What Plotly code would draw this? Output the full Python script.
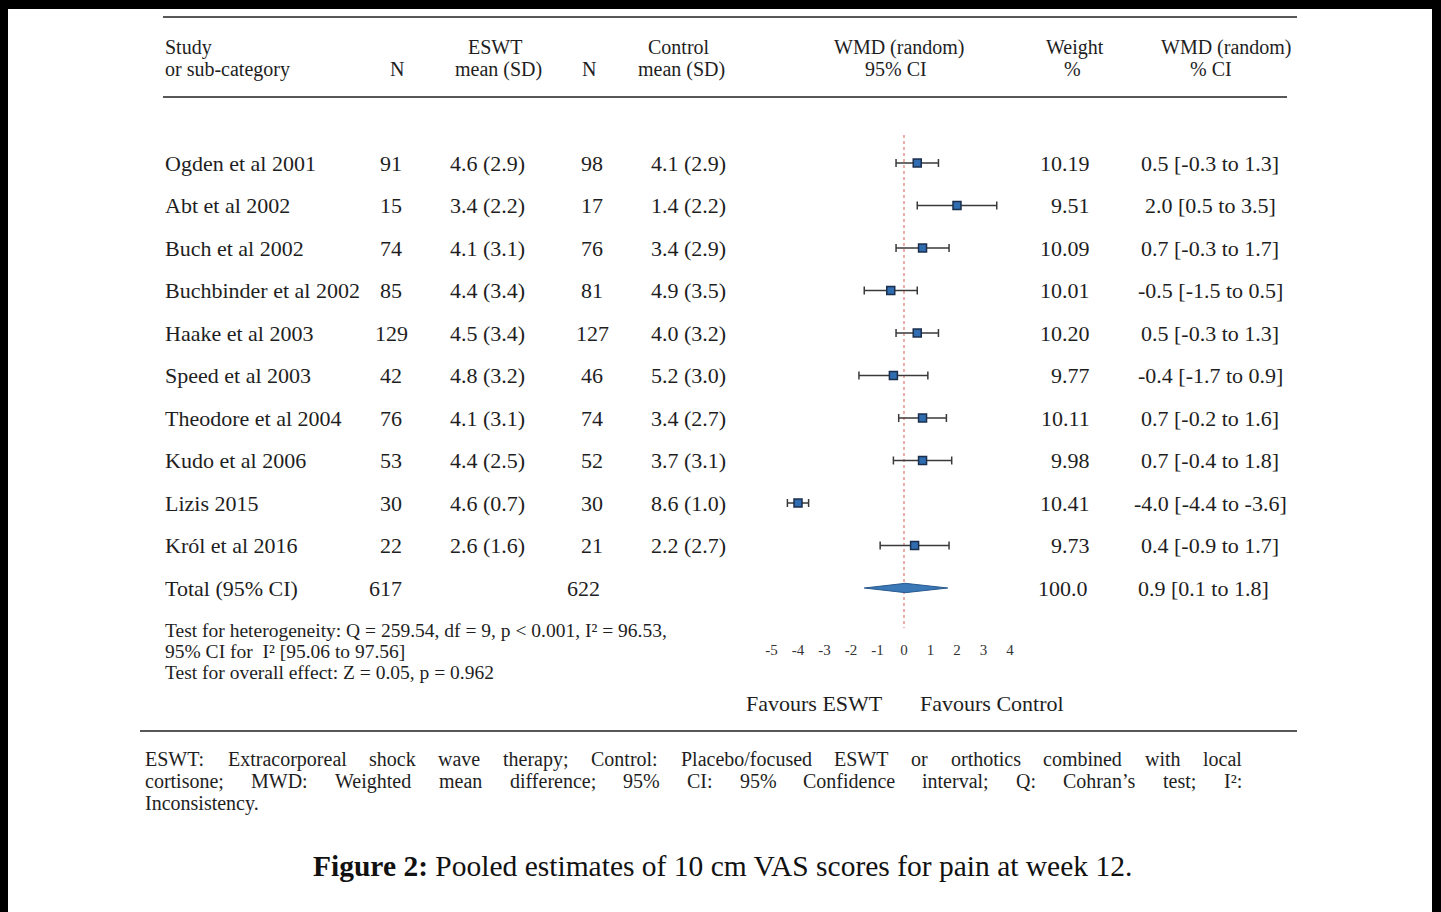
import plotly.graph_objects as go

# ---------------- data ----------------
studies = ["Ogden et al 2001", "Abt et al 2002", "Buch et al 2002", "Buchbinder et al 2002",
           "Haake et al 2003", "Speed et al 2003", "Theodore et al 2004", "Kudo et al 2006",
           "Lizis 2015", "Król et al 2016"]
n_eswt = [91, 15, 74, 85, 129, 42, 76, 53, 30, 22]
eswt_msd = ["4.6 (2.9)", "3.4 (2.2)", "4.1 (3.1)", "4.4 (3.4)", "4.5 (3.4)",
            "4.8 (3.2)", "4.1 (3.1)", "4.4 (2.5)", "4.6 (0.7)", "2.6 (1.6)"]
n_ctrl = [98, 17, 76, 81, 127, 46, 74, 52, 30, 21]
ctrl_msd = ["4.1 (2.9)", "1.4 (2.2)", "3.4 (2.9)", "4.9 (3.5)", "4.0 (3.2)",
            "5.2 (3.0)", "3.4 (2.7)", "3.7 (3.1)", "8.6 (1.0)", "2.2 (2.7)"]
wmd = [0.5, 2.0, 0.7, -0.5, 0.5, -0.4, 0.7, 0.7, -4.0, 0.4]
ci_lo = [-0.3, 0.5, -0.3, -1.5, -0.3, -1.7, -0.2, -0.4, -4.4, -0.9]
ci_hi = [1.3, 3.5, 1.7, 0.5, 1.3, 0.9, 1.6, 1.8, -3.6, 1.7]
weights = ["10.19", "9.51", "10.09", "10.01", "10.20", "9.77", "10.11", "9.98", "10.41", "9.73"]

total_label = "Total (95% CI)"
total_n_eswt = 617
total_n_ctrl = 622
total_weight = "100.0"
total_ci_text = "0.9 [0.1 to 1.8]"
# diamond as drawn in the picture
diamond_mid = 0.05
diamond_lo = -1.5
diamond_hi = 1.65

tick_vals = [-5, -4, -3, -2, -1, 0, 1, 2, 3, 4]
tick_text = ["-5", "-4", "-3", "-2", "-1", "0", "1", "2", "3", "4"]

W, H = 1441, 912
SERIF = "Liberation Serif, Times New Roman, serif"
TXT = "#1e1e1e"


def X(px):
    return px / W


def Y(py):
    return 1 - py / H


# axis mapping: px = 904 + 26.5*v ; row px = 163 + 42.5*i
x_dom = (740, 1040)
x_rng = [(x_dom[0] - 904) / 26.5, (x_dom[1] - 904) / 26.5]
y_rng = [(H - 163) / 42.5, (0 - 163) / 42.5]

fig = go.Figure()
rows = list(range(len(studies)))
total_row = len(studies)

# null line
fig.add_trace(go.Scatter(x=[0, 0], y=[-0.66, 10.94], mode="lines",
                         line=dict(color="#e27a72", width=1.2, dash="dot"),
                         hoverinfo="skip", showlegend=False))

# study estimates with CIs
fig.add_trace(go.Scatter(
    x=wmd, y=rows, mode="markers",
    marker=dict(symbol="square", size=8, color="#2f6db0",
                line=dict(color="#1b2f4d", width=1.5)),
    error_x=dict(type="data", symmetric=False,
                 array=[h - m for h, m in zip(ci_hi, wmd)],
                 arrayminus=[m - l for m, l in zip(wmd, ci_lo)],
                 color="#3a3a3a", thickness=1.5, width=4),
    showlegend=False))

# pooled diamond
dh = 0.11
fig.add_trace(go.Scatter(
    x=[diamond_lo, diamond_mid, diamond_hi, diamond_mid, diamond_lo],
    y=[total_row, total_row - dh, total_row, total_row + dh, total_row],
    mode="lines", fill="toself", fillcolor="#3a78b8",
    line=dict(color="#2a5a8e", width=1), showlegend=False, hoverinfo="skip"))

ann = []


def add(text, x, y, xanchor="left", size=22, yref="paper"):
    ann.append(dict(text=text, x=X(x), y=(Y(y) if yref == "paper" else y),
                    xref="paper", yref=yref, xanchor=xanchor, yanchor="middle",
                    showarrow=False, font=dict(family=SERIF, size=size, color=TXT)))


# header
HS = 20
add("Study", 163, 47, size=HS)
add("or sub-category", 163, 69, size=HS)
add("N", 397, 69, "center", size=HS)
add("ESWT", 495, 47, "center", size=HS)
add("mean (SD)", 498, 69, "center", size=HS)
add("N", 589, 69, "center", size=HS)
add("Control", 679, 47, "center", size=HS)
add("mean (SD)", 681, 69, "center", size=HS)
add("WMD (random)", 899, 47, "center", size=HS)
add("95% CI", 896, 69, "center", size=HS)
add("Weight", 1075, 47, "center", size=HS)
add("%", 1072, 69, "center", size=HS)
add("WMD (random)", 1226, 47, "center", size=HS)
add("% CI", 1211, 69, "center", size=HS)

# rows
for i in rows:
    add(studies[i], 163, i, "left", yref="y")
    add(str(n_eswt[i]), 391, i, "center", yref="y")
    add(eswt_msd[i], 448, i, "left", yref="y")
    add(str(n_ctrl[i]), 592, i, "center", yref="y")
    add(ctrl_msd[i], 649, i, "left", yref="y")
    add(weights[i], 1092, i, "right", yref="y")
    add(f"{wmd[i]:.1f} [{ci_lo[i]:.1f} to {ci_hi[i]:.1f}]", 1210, i, "center", yref="y")

add(total_label, 163, total_row, "left", yref="y")
add(str(total_n_eswt), 385, total_row, "center", yref="y")
add(str(total_n_ctrl), 583, total_row, "center", yref="y")
add(total_weight, 1090, total_row, "right", yref="y")
add(total_ci_text, 1203, total_row, "center", yref="y")

# test lines
TS = 19.5
add("Test for heterogeneity: Q = 259.54, df = 9, p &lt; 0.001, I² = 96.53,", 163, 630, size=TS)
add("95% CI for  I² [95.06 to 97.56]", 163, 651, size=TS)
add("Test for overall effect: Z = 0.05, p = 0.962", 163, 672, size=TS)

add("Favours ESWT", 815, 703, "center")
add("Favours Control", 992, 703, "center")

# footnote (justified)
TW = {' ': 250, 'a': 444, 'b': 500, 'c': 444, 'd': 500, 'e': 444, 'f': 333, 'g': 500, 'h': 500,
      'i': 278, 'j': 278, 'k': 500, 'l': 278, 'm': 778, 'n': 500, 'o': 500, 'p': 500, 'q': 500,
      'r': 333, 's': 389, 't': 278, 'u': 500, 'v': 500, 'w': 722, 'x': 500, 'y': 500, 'z': 444,
      'A': 722, 'B': 667, 'C': 667, 'D': 722, 'E': 611, 'F': 556, 'G': 722, 'H': 722, 'I': 333,
      'J': 389, 'K': 722, 'L': 611, 'M': 889, 'N': 722, 'O': 722, 'P': 556, 'Q': 722, 'R': 667,
      'S': 556, 'T': 611, 'U': 722, 'V': 722, 'W': 944, 'X': 722, 'Y': 722, 'Z': 611,
      '.': 250, ',': 250, ':': 278, ';': 278, '/': 278, '%': 833, "'": 180, '’': 333,
      '(': 333, ')': 333, '-': 333, '²': 300}
for d in "0123456789":
    TW[d] = 500


def text_w(s, size):
    return sum(TW.get(c, 500) for c in s) * size / 1000.0


FN = 20
foot_lines = [
    ["ESWT:", "Extracorporeal", "shock", "wave", "therapy;", "Control:", "Placebo/focused",
     "ESWT", "or", "orthotics", "combined", "with", "local"],
    ["cortisone;", "MWD:", "Weighted", "mean", "difference;", "95%", "CI:", "95%",
     "Confidence", "interval;", "Q:", "Cohran’s", "test;", "I²:"],
]
foot_y = [759, 781]
x0, x1 = 143, 1240
for words, yy in zip(foot_lines, foot_y):
    widths = [text_w(w, FN) for w in words]
    gap = (x1 - x0 - sum(widths)) / (len(words) - 1)
    xx = x0
    for w, wd in zip(words, widths):
        add(w, xx, yy, "left", size=FN)
        xx += wd + gap
add("Inconsistency.", 143, 803, "left", size=FN)

# caption
ann.append(dict(text="<b>Figure 2:</b> Pooled estimates of 10 cm VAS scores for pain at week 12.",
                x=X(722), y=Y(866), xref="paper", yref="paper", xanchor="center",
                yanchor="middle", showarrow=False,
                font=dict(family=SERIF, size=29.5, color="#111")))

shapes = []
# rules
for (xa, xb, yy) in [(163, 1297, 17), (163, 1287, 97), (140, 1297, 731)]:
    shapes.append(dict(type="line", xref="paper", yref="paper", x0=X(xa), x1=X(xb),
                       y0=Y(yy), y1=Y(yy), line=dict(color="#585858", width=2)))
# black frame (left, top, right)
for (xa, xb, ya, yb) in [(0, 8, 0, H), (0, W, 0, 9), (1432, W, 0, H)]:
    shapes.append(dict(type="rect", xref="paper", yref="paper", x0=X(xa), x1=X(xb),
                       y0=Y(yb), y1=Y(ya), fillcolor="black", line=dict(width=0)))

fig.update_layout(
    width=W, height=H, margin=dict(l=0, r=0, t=0, b=0),
    paper_bgcolor="white", plot_bgcolor="rgba(0,0,0,0)",
    annotations=ann, shapes=shapes, showlegend=False,
    xaxis=dict(domain=[X(x_dom[0]), X(x_dom[1])], range=x_rng, anchor="free",
               position=Y(639), tickmode="array", tickvals=tick_vals, ticktext=tick_text,
               showgrid=False, zeroline=False, showline=False, ticks="",
               tickfont=dict(family=SERIF, size=15, color="#333")),
    yaxis=dict(domain=[0, 1], range=y_rng, visible=False, showgrid=False, zeroline=False),
)

fig.write_html("out.html", config={"displayModeBar": False},
               post_script="document.body.style.margin='0px';"
                           "document.body.style.overflow='hidden';")
